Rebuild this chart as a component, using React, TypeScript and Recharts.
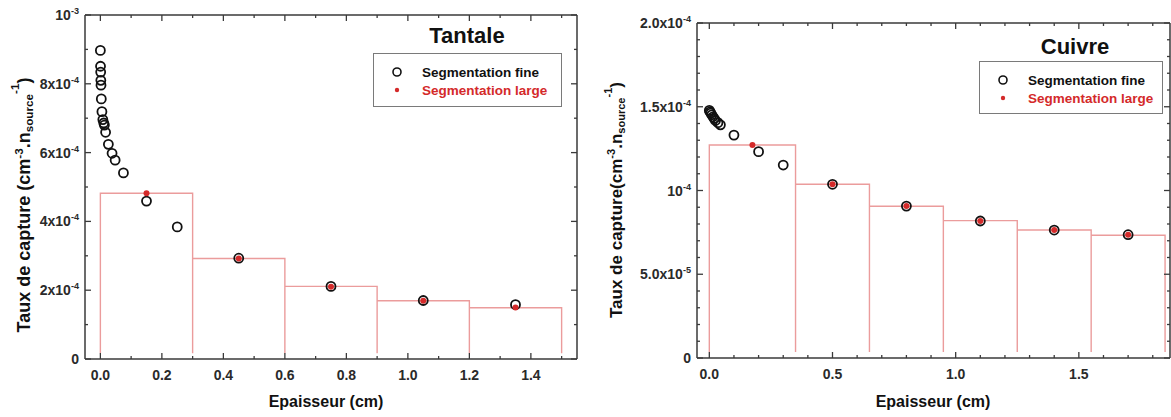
import React from "react";
import { ComposedChart, Line, Scatter, XAxis, YAxis } from "recharts";

// Tantale
const taFineX = [0, 0.0005, 0.001, 0.0015, 0.002, 0.003, 0.005, 0.008, 0.011, 0.013, 0.017, 0.026, 0.038, 0.048, 0.075, 0.15, 0.25, 0.45, 0.75, 1.05, 1.35];
const taFineY = [8.97e-4, 8.51e-4, 8.34e-4, 8.1e-4, 7.96e-4, 7.56e-4, 7.19e-4, 6.96e-4, 6.86e-4, 6.8e-4, 6.59e-4, 6.24e-4, 5.98e-4, 5.78e-4, 5.41e-4, 4.59e-4, 3.84e-4, 2.93e-4, 2.11e-4, 1.7e-4, 1.58e-4];
const taLargeX = [0.15, 0.45, 0.75, 1.05, 1.35];
const taLargeY = [4.82e-4, 2.92e-4, 2.1e-4, 1.69e-4, 1.5e-4];
const taEdges = [0, 0.3, 0.6, 0.9, 1.2, 1.5];
const taHist = [4.82e-4, 2.92e-4, 2.11e-4, 1.695e-4, 1.49e-4];
const taBase = 1.7e-5;

const taXTicks = [0, 0.1, 0.2, 0.3, 0.4, 0.5, 0.6, 0.7, 0.8, 0.9, 1.0, 1.1, 1.2, 1.3, 1.4, 1.5];
const taXMajors = [0, 0.2, 0.4, 0.6, 0.8, 1.0, 1.2, 1.4];
const taXLabels = [["0.0", ""], ["0.2", ""], ["0.4", ""], ["0.6", ""], ["0.8", ""], ["1.0", ""], ["1.2", ""], ["1.4", ""]];
const taYTicks = [0, 1e-4, 2e-4, 3e-4, 4e-4, 5e-4, 6e-4, 7e-4, 8e-4, 9e-4, 1e-3];
const taYMajors = [0, 2e-4, 4e-4, 6e-4, 8e-4, 1e-3];
const taYLabels = [["0", ""], ["2x10", "-4"], ["4x10", "-4"], ["6x10", "-4"], ["8x10", "-4"], ["10", "-3"]];

// Cuivre
const cuFineX = [0, 0.003, 0.006, 0.01, 0.015, 0.02, 0.025, 0.035, 0.045, 0.1, 0.2, 0.3, 0.5, 0.8, 1.1, 1.4, 1.7];
const cuFineY = [1.478e-4, 1.47e-4, 1.462e-4, 1.452e-4, 1.44e-4, 1.43e-4, 1.418e-4, 1.405e-4, 1.392e-4, 1.331e-4, 1.232e-4, 1.152e-4, 1.037e-4, 0.907e-4, 0.818e-4, 0.764e-4, 0.736e-4];
const cuLargeX = [0.175, 0.5, 0.8, 1.1, 1.4, 1.7];
const cuLargeY = [1.272e-4, 1.037e-4, 0.907e-4, 0.818e-4, 0.764e-4, 0.736e-4];
const cuEdges = [0, 0.35, 0.65, 0.95, 1.25, 1.55, 1.85];
const cuHist = [1.272e-4, 1.037e-4, 0.906e-4, 0.82e-4, 0.764e-4, 0.733e-4];
const cuBase = 3.6e-6;

const cuXTicks = [0, 0.1, 0.2, 0.3, 0.4, 0.5, 0.6, 0.7, 0.8, 0.9, 1.0, 1.1, 1.2, 1.3, 1.4, 1.5, 1.6, 1.7, 1.8];
const cuXMajors = [0, 0.5, 1.0, 1.5];
const cuXLabels = [["0.0", ""], ["0.5", ""], ["1.0", ""], ["1.5", ""]];
const cuYTicks = [0, 1e-5, 2e-5, 3e-5, 4e-5, 5e-5, 6e-5, 7e-5, 8e-5, 9e-5, 1e-4, 1.1e-4, 1.2e-4, 1.3e-4, 1.4e-4, 1.5e-4, 1.6e-4, 1.7e-4, 1.8e-4, 1.9e-4, 2e-4];
const cuYMajors = [0, 5e-5, 1e-4, 1.5e-4, 2e-4];
const cuYLabels = [["0", ""], ["5.0x10", "-5"], ["10", "-4"], ["1.5x10", "-4"], ["2.0x10", "-4"]];

const FONT = "'Liberation Sans', Arial, sans-serif";
const AXIS = "#3a3a3a";
const RED = "#d42a2a";
const PINK = "#eb9c9c";

const toPoints = (xs: number[], ys: number[]) => xs.map((x, i) => ({ x, y: ys[i] }));

// outline of the coarse bins, open at the bottom
const histOutline = (edges: number[], h: number[], base: number) => {
  const pts: { x: number; y: number }[] = [];
  h.forEach((v, i) => {
    pts.push({ x: edges[i], y: base }, { x: edges[i], y: v }, { x: edges[i + 1], y: v }, { x: edges[i + 1], y: base });
  });
  return pts;
};

function AxisTick(props: any) {
  const { x, y, payload, side, majors, labels, tol, fontSize } = props;
  const v = payload.value;
  const idx = majors.findIndex((m: number) => Math.abs(m - v) < tol);
  const len = idx >= 0 ? 6 : 3;
  const lab = idx >= 0 && labels ? labels[idx] : null;
  let line;
  if (side === "bottom") line = <line x1={x} y1={y} x2={x} y2={y - len} />;
  else if (side === "top") line = <line x1={x} y1={y} x2={x} y2={y + len} />;
  else if (side === "left") line = <line x1={x} y1={y} x2={x + len} y2={y} />;
  else line = <line x1={x} y1={y} x2={x - len} y2={y} />;
  return (
    <g>
      <g stroke={AXIS} strokeWidth={1.3}>{line}</g>
      {lab && side === "bottom" && (
        <text x={x} y={y + 21} textAnchor="middle" fontSize={fontSize} fontWeight="bold" fill="#2a2a2a" fontFamily={FONT}>
          {lab[0]}
        </text>
      )}
      {lab && side === "left" && (
        <text x={x - 6} y={y + 5} textAnchor="end" fontSize={fontSize} fontWeight="bold" fill="#2a2a2a" fontFamily={FONT}>
          <tspan>{lab[0]}</tspan>
          {lab[1] && <tspan dy={-6} fontSize={fontSize * 0.65}>{lab[1]}</tspan>}
        </text>
      )}
    </g>
  );
}

const FineDot = (p: any) => <circle cx={p.cx} cy={p.cy} r={4.5} fill="none" stroke="#111" strokeWidth={1.8} />;
const LargeDot = (p: any) => <circle cx={p.cx} cy={p.cy} r={3} fill={RED} stroke="none" />;

interface PanelProps {
  width: number;
  left: number;
  yW: number;
  rightW: number;
  topH: number;
  bottomH: number;
  xDomain: number[];
  yDomain: number[];
  xTicks: number[];
  xMajors: number[];
  xLabels: string[][];
  yTicks: number[];
  yMajors: number[];
  yLabels: string[][];
  fine: { x: number; y: number }[];
  large: { x: number; y: number }[];
  hist: { x: number; y: number }[];
}

function Panel(p: PanelProps) {
  const axisLine = { stroke: AXIS, strokeWidth: 1.5 };
  const xt = (side: string, labels: any) => (tp: any) => (
    <AxisTick {...tp} side={side} majors={p.xMajors} labels={labels} tol={1e-6} fontSize={14} />
  );
  const yt = (side: string, labels: any) => (tp: any) => (
    <AxisTick {...tp} side={side} majors={p.yMajors} labels={labels} tol={1e-9} fontSize={14} />
  );
  return (
    <ComposedChart width={p.width} height={417} margin={{ top: 0, right: 0, bottom: 0, left: p.left }}>
      <XAxis xAxisId="b" dataKey="x" type="number" domain={p.xDomain} ticks={p.xTicks} interval={0} height={p.bottomH}
        tickSize={0} tickMargin={0} tickLine={false} axisLine={axisLine} tick={xt("bottom", p.xLabels)} allowDataOverflow />
      <XAxis xAxisId="t" orientation="top" dataKey="x" type="number" domain={p.xDomain} ticks={p.xTicks} interval={0} height={p.topH}
        tickSize={0} tickMargin={0} tickLine={false} axisLine={axisLine} tick={xt("top", null)} allowDataOverflow />
      <YAxis yAxisId="l" dataKey="y" type="number" domain={p.yDomain} ticks={p.yTicks} interval={0} width={p.yW}
        tickSize={0} tickMargin={0} tickLine={false} axisLine={axisLine} tick={yt("left", p.yLabels)} allowDataOverflow />
      <YAxis yAxisId="r" orientation="right" dataKey="y" type="number" domain={p.yDomain} ticks={p.yTicks} interval={0} width={p.rightW}
        tickSize={0} tickMargin={0} tickLine={false} axisLine={axisLine} tick={yt("right", null)} allowDataOverflow />
      <Line xAxisId="b" yAxisId="l" data={p.hist} dataKey="y" type="linear" stroke={PINK} strokeWidth={1.4} dot={false}
        activeDot={false} isAnimationActive={false} />
      <Scatter xAxisId="b" yAxisId="l" data={p.fine} shape={FineDot} isAnimationActive={false} />
      <Scatter xAxisId="b" yAxisId="l" data={p.large} shape={LargeDot} isAnimationActive={false} />
    </ComposedChart>
  );
}

const abs = (l: number, t: number): React.CSSProperties => ({ position: "absolute", left: l, top: t });
const centered = (l: number, t: number, size: number, rot = false): React.CSSProperties => ({
  position: "absolute",
  left: l,
  top: t,
  transform: rot ? "translate(-50%, -50%) rotate(-90deg)" : "translate(-50%, -50%)",
  whiteSpace: "nowrap",
  fontFamily: FONT,
  fontWeight: "bold",
  fontSize: size,
  color: "#111",
  lineHeight: 1,
});

function Legend({ l, t, w, h }: { l: number; t: number; w: number; h: number }) {
  const row = (y: number): React.CSSProperties => ({ ...abs(0, y), width: w, height: 18, display: "flex", alignItems: "center" });
  return (
    <div style={{ ...abs(l, t), width: w, height: h, border: "1px solid #7a7a7a", boxSizing: "border-box", fontFamily: FONT, fontWeight: "bold", fontSize: 13.5 }}>
      <div style={row(9)}>
        <svg width={48} height={18}><circle cx={23} cy={9} r={4} fill="none" stroke="#111" strokeWidth={1.6} /></svg>
        <span style={{ color: "#111" }}>Segmentation fine</span>
      </div>
      <div style={row(27)}>
        <svg width={48} height={18}><circle cx={23} cy={9} r={2.2} fill={RED} /></svg>
        <span style={{ color: RED }}>Segmentation large</span>
      </div>
    </div>
  );
}

function YLabel({ l, t, size, space }: { l: number; t: number; size: number; space: boolean }) {
  const sm = { fontSize: size * 0.65 };
  return (
    <div style={centered(l, t, size, true)}>
      Taux de capture{space ? " " : ""}(cm<sup style={{ ...sm, verticalAlign: "0.6em" }}>-3</sup>.n
      <sub style={{ ...sm, verticalAlign: "-0.25em" }}>source</sub>
      <sup style={{ ...sm, verticalAlign: "0.9em" }}>-1</sup>)
    </div>
  );
}

export default function App() {
  return (
    <div style={{ position: "absolute", left: 0, top: 0, width: 1171, height: 417, overflow: "hidden", background: "#fff" }}>
      <div style={{ ...abs(0, 0), width: 585, height: 417 }}>
        <Panel width={585} left={25} yW={60} rightW={8} topH={15} bottomH={58}
          xDomain={[-0.05, 1.55]} yDomain={[0, 1e-3]}
          xTicks={taXTicks} xMajors={taXMajors} xLabels={taXLabels}
          yTicks={taYTicks} yMajors={taYMajors} yLabels={taYLabels}
          fine={toPoints(taFineX, taFineY)} large={toPoints(taLargeX, taLargeY)} hist={histOutline(taEdges, taHist, taBase)} />
        <div style={centered(467, 36, 22)}>Tantale</div>
        <Legend l={373} t={53} w={189} h={54} />
        <YLabel l={22} t={205} size={18} space />
        <div style={centered(326, 402, 16)}>Epaisseur (cm)</div>
      </div>
      <div style={{ ...abs(585, 0), width: 586, height: 417, overflow: "hidden" }}>
        <Panel width={595} left={52} yW={60} rightW={10} topH={23} bottomH={59}
          xDomain={[-0.05, 1.87]} yDomain={[0, 2e-4]}
          xTicks={cuXTicks} xMajors={cuXMajors} xLabels={cuXLabels}
          yTicks={cuYTicks} yMajors={cuYMajors} yLabels={cuYLabels}
          fine={toPoints(cuFineX, cuFineY)} large={toPoints(cuLargeX, cuLargeY)} hist={histOutline(cuEdges, cuHist, cuBase)} />
        <div style={centered(490, 47, 22)}>Cuivre</div>
        <Legend l={394} t={61} w={184} h={53} />
        <YLabel l={30} t={200} size={17} space={false} />
        <div style={centered(348, 402, 16)}>Epaisseur (cm)</div>
      </div>
    </div>
  );
}
